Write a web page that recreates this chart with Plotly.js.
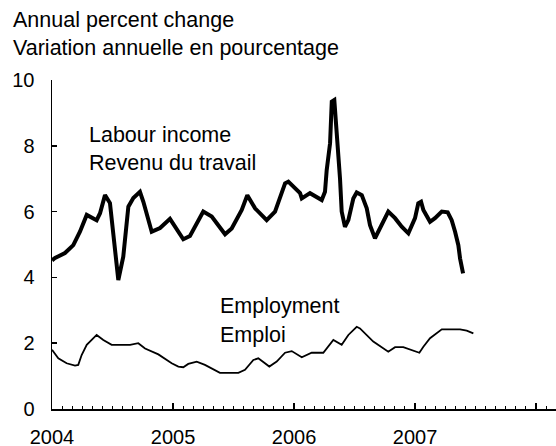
<!DOCTYPE html>
<html>
<head>
<meta charset="utf-8">
<script src="https://cdn.plot.ly/plotly-3.0.1.min.js"></script>
<style>html,body{margin:0;padding:0;background:#fff;}#chart{width:556px;height:446px;}</style>
</head>
<body>
<div id="chart"></div>
<script>
// Labour income, annual percent change (time in fractional years)
const labourTime = [2004.000,2004.025,2004.107,2004.176,2004.231,2004.287,2004.369,2004.397,2004.438,2004.479,
  2004.548,2004.589,2004.631,2004.672,2004.727,2004.755,2004.824,2004.893,2004.975,
  2005.085,2005.140,2005.250,2005.320,2005.430,2005.485,2005.568,2005.614,2005.678,2005.774,2005.843,2005.926,2005.953,2006.050,
  2006.064,2006.132,2006.229,2006.256,2006.270,2006.298,2006.312,2006.333,2006.353,2006.380,2006.394,2006.421,2006.449,
  2006.490,2006.518,2006.560,2006.601,2006.628,2006.669,2006.711,2006.779,2006.835,2006.890,2006.945,2006.973,2007.000,
  2007.027,2007.050,2007.069,2007.124,2007.165,2007.221,2007.270,2007.303,2007.331,2007.358,2007.372,2007.397];
const labourValues = [4.52,4.59,4.74,4.98,5.39,5.90,5.74,5.95,6.50,6.26,
  3.92,4.63,6.15,6.41,6.60,6.30,5.39,5.50,5.78,
  5.16,5.26,6.00,5.85,5.31,5.49,6.05,6.50,6.10,5.74,6.00,6.86,6.91,6.56,
  6.40,6.56,6.35,6.60,7.26,8.08,9.34,9.39,8.43,7.01,6.00,5.54,5.74,
  6.40,6.58,6.50,6.10,5.59,5.19,5.49,6.00,5.80,5.54,5.34,5.59,5.80,
  6.25,6.30,6.05,5.69,5.80,6.00,5.98,5.74,5.39,4.98,4.58,4.12];

// Employment, annual percent change
const employTime = [2004.000,2004.052,2004.121,2004.190,2004.217,2004.245,2004.287,2004.369,2004.424,2004.493,
  2004.645,2004.713,2004.769,2004.824,2004.879,2004.989,2005.044,2005.085,2005.126,2005.196,2005.264,
  2005.388,2005.540,2005.595,2005.664,2005.705,2005.796,2005.857,2005.926,2005.981,
  2006.064,2006.146,2006.242,2006.325,2006.366,2006.394,2006.449,2006.518,2006.545,2006.655,
  2006.779,2006.835,2006.903,2006.986,2007.036,2007.069,2007.124,2007.221,2007.372,2007.427,2007.482];
const employValues = [1.80,1.54,1.39,1.32,1.34,1.64,1.95,2.25,2.10,1.95,
  1.95,2.00,1.84,1.74,1.66,1.39,1.29,1.27,1.37,1.44,1.34,
  1.10,1.10,1.19,1.49,1.54,1.29,1.44,1.71,1.76,
  1.57,1.71,1.71,2.10,2.00,1.95,2.25,2.50,2.45,2.05,
  1.74,1.88,1.88,1.77,1.71,1.89,2.15,2.42,2.42,2.38,2.30];

const yearTicks = [2004, 2005, 2006, 2007, 2008];
const yearLabels = ['2004', '2005', '2006', '2007', ''];

const FONT = 'Liberation Sans, Arial, Helvetica, sans-serif';

const traces = [
  {x: labourTime, y: labourValues, type: 'scatter', mode: 'lines',
   line: {color: '#000', width: 4}, hoverinfo: 'skip'},
  {x: employTime, y: employValues, type: 'scatter', mode: 'lines',
   line: {color: '#000', width: 1.8}, hoverinfo: 'skip'}
];

function ann(text, px, py) {
  return {text: text, xref: 'paper', yref: 'paper',
    x: (px - 52) / 504, y: (409 - py) / 329,
    xanchor: 'left', yanchor: 'middle', showarrow: false,
    font: {family: FONT, size: 21.5, color: '#000'}};
}

const layout = {
  width: 556, height: 446,
  margin: {l: 52, r: 0, t: 80, b: 37, pad: 0},
  paper_bgcolor: '#fff', plot_bgcolor: '#fff',
  showlegend: false,
  font: {family: FONT, size: 20, color: '#000'},
  xaxis: {
    range: [2004, 2008.165], showgrid: false, zeroline: false,
    showline: true, linecolor: '#000', linewidth: 1.5,
    tickmode: 'array', tickvals: yearTicks, ticktext: yearLabels,
    ticks: 'inside', ticklen: 6, tickwidth: 1.5, tickcolor: '#000',
    ticklabelstandoff: 9,
    tickfont: {family: FONT, size: 20, color: '#000'},
    minor: {tickmode: 'linear', tick0: 2004, dtick: 1/12, ticks: 'inside',
            ticklen: 3, tickwidth: 1, tickcolor: '#000', showgrid: false}
  },
  yaxis: {
    range: [0, 10], dtick: 2, tick0: 0, showgrid: false, zeroline: false,
    showline: true, linecolor: '#000', linewidth: 1.5,
    ticks: 'inside', ticklen: 5, tickwidth: 1.5, tickcolor: '#000',
    ticklabelstandoff: 12,
    tickfont: {family: FONT, size: 20, color: '#000'}
  },
  annotations: [
    ann('Annual percent change', 11, 20),
    ann('Variation annuelle en pourcentage', 11, 48),
    ann('Labour income', 87, 135),
    ann('Revenu du travail', 87, 163),
    ann('Employment', 218, 306),
    ann('Emploi', 218, 335)
  ]
};

Plotly.newPlot('chart', traces, layout, {displayModeBar: false, staticPlot: true});
</script>
</body>
</html>
